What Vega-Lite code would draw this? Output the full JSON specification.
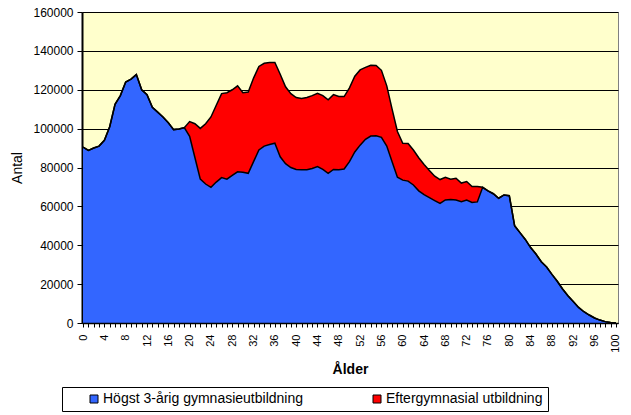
{
  "$schema": "https://vega.github.io/schema/vega-lite/v6.json",
  "width": 536,
  "height": 311,
  "autosize": {"type": "none"},
  "padding": {"left": 82, "top": 12, "right": 13, "bottom": 92},
  "background": "white",
  "config": {
    "font": "Liberation Sans",
    "view": {"fill": "#FFFFCC", "stroke": "#808080", "strokeWidth": 1}
  },
  "data": {
    "values": [
      {"age": 0, "hogst": 90500, "efter": 0},
      {"age": 1, "hogst": 88800, "efter": 0},
      {"age": 2, "hogst": 90000, "efter": 0},
      {"age": 3, "hogst": 91000, "efter": 0},
      {"age": 4, "hogst": 94000, "efter": 0},
      {"age": 5, "hogst": 101000, "efter": 0},
      {"age": 6, "hogst": 112500, "efter": 0},
      {"age": 7, "hogst": 117000, "efter": 0},
      {"age": 8, "hogst": 124000, "efter": 0},
      {"age": 9, "hogst": 125500, "efter": 0},
      {"age": 10, "hogst": 127800, "efter": 0},
      {"age": 11, "hogst": 120000, "efter": 0},
      {"age": 12, "hogst": 117500, "efter": 0},
      {"age": 13, "hogst": 111000, "efter": 0},
      {"age": 14, "hogst": 108500, "efter": 0},
      {"age": 15, "hogst": 106000, "efter": 0},
      {"age": 16, "hogst": 103000, "efter": 0},
      {"age": 17, "hogst": 99500, "efter": 0},
      {"age": 18, "hogst": 99800, "efter": 0},
      {"age": 19, "hogst": 100500, "efter": 0},
      {"age": 20, "hogst": 96000, "efter": 7600},
      {"age": 21, "hogst": 85000, "efter": 17500},
      {"age": 22, "hogst": 74000, "efter": 26100},
      {"age": 23, "hogst": 71500, "efter": 31000},
      {"age": 24, "hogst": 69800, "efter": 36200},
      {"age": 25, "hogst": 72500, "efter": 39500},
      {"age": 26, "hogst": 74800, "efter": 43200},
      {"age": 27, "hogst": 74000, "efter": 44500},
      {"age": 28, "hogst": 76000, "efter": 44000},
      {"age": 29, "hogst": 77800, "efter": 44200},
      {"age": 30, "hogst": 77500, "efter": 41000},
      {"age": 31, "hogst": 77000, "efter": 41800},
      {"age": 32, "hogst": 83000, "efter": 43000},
      {"age": 33, "hogst": 89000, "efter": 43000},
      {"age": 34, "hogst": 91000, "efter": 42600},
      {"age": 35, "hogst": 91800, "efter": 42200},
      {"age": 36, "hogst": 92500, "efter": 41500},
      {"age": 37, "hogst": 85500, "efter": 42500},
      {"age": 38, "hogst": 82000, "efter": 39500},
      {"age": 39, "hogst": 80000, "efter": 38000},
      {"age": 40, "hogst": 79000, "efter": 37000},
      {"age": 41, "hogst": 78800, "efter": 36700},
      {"age": 42, "hogst": 78800, "efter": 37200},
      {"age": 43, "hogst": 79500, "efter": 37500},
      {"age": 44, "hogst": 80500, "efter": 37700},
      {"age": 45, "hogst": 79000, "efter": 38000},
      {"age": 46, "hogst": 77000, "efter": 37800},
      {"age": 47, "hogst": 79000, "efter": 38500},
      {"age": 48, "hogst": 78800, "efter": 37700},
      {"age": 49, "hogst": 79200, "efter": 37300},
      {"age": 50, "hogst": 83000, "efter": 38000},
      {"age": 51, "hogst": 88000, "efter": 39000},
      {"age": 52, "hogst": 91500, "efter": 38700},
      {"age": 53, "hogst": 94500, "efter": 37000},
      {"age": 54, "hogst": 96200, "efter": 36400},
      {"age": 55, "hogst": 96300, "efter": 36200},
      {"age": 56, "hogst": 95500, "efter": 34500},
      {"age": 57, "hogst": 91000, "efter": 31000},
      {"age": 58, "hogst": 83000, "efter": 27000},
      {"age": 59, "hogst": 75000, "efter": 23500},
      {"age": 60, "hogst": 73500, "efter": 19000},
      {"age": 61, "hogst": 73000, "efter": 19300},
      {"age": 62, "hogst": 71000, "efter": 18000},
      {"age": 63, "hogst": 68000, "efter": 17000},
      {"age": 64, "hogst": 66000, "efter": 15500},
      {"age": 65, "hogst": 64500, "efter": 14000},
      {"age": 66, "hogst": 63000, "efter": 12500},
      {"age": 67, "hogst": 61500, "efter": 12300},
      {"age": 68, "hogst": 63300, "efter": 11700},
      {"age": 69, "hogst": 63500, "efter": 10500},
      {"age": 70, "hogst": 63300, "efter": 11200},
      {"age": 71, "hogst": 62400, "efter": 9600},
      {"age": 72, "hogst": 63300, "efter": 9500},
      {"age": 73, "hogst": 62000, "efter": 8200},
      {"age": 74, "hogst": 62300, "efter": 7900},
      {"age": 75, "hogst": 69800, "efter": 0},
      {"age": 76, "hogst": 68000, "efter": 0},
      {"age": 77, "hogst": 66500, "efter": 0},
      {"age": 78, "hogst": 64200, "efter": 0},
      {"age": 79, "hogst": 65900, "efter": 0},
      {"age": 80, "hogst": 65500, "efter": 0},
      {"age": 81, "hogst": 50000, "efter": 0},
      {"age": 82, "hogst": 46500, "efter": 0},
      {"age": 83, "hogst": 43000, "efter": 0},
      {"age": 84, "hogst": 38800, "efter": 0},
      {"age": 85, "hogst": 35500, "efter": 0},
      {"age": 86, "hogst": 31500, "efter": 0},
      {"age": 87, "hogst": 28800, "efter": 0},
      {"age": 88, "hogst": 25000, "efter": 0},
      {"age": 89, "hogst": 21500, "efter": 0},
      {"age": 90, "hogst": 17500, "efter": 0},
      {"age": 91, "hogst": 14000, "efter": 0},
      {"age": 92, "hogst": 11000, "efter": 0},
      {"age": 93, "hogst": 8000, "efter": 0},
      {"age": 94, "hogst": 5800, "efter": 0},
      {"age": 95, "hogst": 4100, "efter": 0},
      {"age": 96, "hogst": 2600, "efter": 0},
      {"age": 97, "hogst": 1500, "efter": 0},
      {"age": 98, "hogst": 700, "efter": 0},
      {"age": 99, "hogst": 200, "efter": 0},
      {"age": 100, "hogst": 100, "efter": 0}
    ]
  },
  "transform": [
    {"fold": ["hogst", "efter"], "as": ["serie", "antal"]},
    {"stack": "antal", "groupby": ["age"], "sort": [{"field": "serie", "order": "descending"}], "as": ["y0", "y1"]}
  ],
  "layer": [
    {
      "mark": {"type": "area", "interpolate": "linear"},
      "encoding": {
        "x": {
          "field": "age",
          "type": "quantitative",
          "scale": {"domain": [-0.2, 100.4], "nice": false, "zero": false},
          "axis": {
            "title": "Ålder",
            "titleFontSize": 14,
            "titleFontWeight": "bold",
            "titleColor": "black",
            "titlePadding": 10,
            "values": [0,1,2,3,4,5,6,7,8,9,10,11,12,13,14,15,16,17,18,19,20,21,22,23,24,25,26,27,28,29,30,31,32,33,34,35,36,37,38,39,40,41,42,43,44,45,46,47,48,49,50,51,52,53,54,55,56,57,58,59,60,61,62,63,64,65,66,67,68,69,70,71,72,73,74,75,76,77,78,79,80,81,82,83,84,85,86,87,88,89,90,91,92,93,94,95,96,97,98,99,100],
            "tickCount": 500,
            "labelExpr": "datum.value % 4 === 0 ? datum.label : ''",
            "labelAngle": -90,
            "labelFontSize": 11,
            "labelColor": "black",
            "labelPadding": 7,
            "labelOverlap": false,
            "labelFlush": false,
            "format": "d",
            "grid": false,
            "domainColor": "black",
            "domainWidth": 1.5,
            "tickColor": "black",
            "tickSize": 4,
            "zindex": 1
          }
        },
        "y": {
          "field": "y1",
          "type": "quantitative",
          "scale": {"domain": [0, 160000], "nice": false},
          "axis": {
            "title": "Antal",
            "titleFontSize": 14,
            "titleFontWeight": "normal",
            "titleColor": "black",
            "titlePadding": 8,
            "values": [0, 20000, 40000, 60000, 80000, 100000, 120000, 140000, 160000],
            "tickCount": 50,
            "format": "d",
            "labelFontSize": 12,
            "labelColor": "black",
            "labelPadding": 4,
            "labelOverlap": false,
            "grid": true,
            "gridColor": "black",
            "gridWidth": 1,
            "domainColor": "black",
            "domainWidth": 2,
            "tickColor": "black",
            "tickSize": 5
          }
        },
        "y2": {"field": "y0"},
        "color": {
          "field": "serie",
          "type": "nominal",
          "scale": {"domain": ["hogst", "efter"], "range": ["#3366FF", "#FF0000"]},
          "legend": {
            "orient": "none",
            "legendX": -20,
            "legendY": 375,
            "direction": "horizontal",
            "title": null,
            "labelExpr": "datum.label == 'hogst' ? 'Högst 3-årig gymnasieutbildning' : 'Eftergymnasial utbildning\u00a0\u00a0\u00a0\u00a0\u00a0\u00a0\u00a0\u00a0\u00a0\u00a0\u00a0\u00a0\u00a0\u00a0\u00a0\u00a0\u00a0\u00a0\u00a0\u00a0'",
            "symbolType": "square",
            "symbolSize": 64,
            "symbolStrokeColor": "black",
            "symbolStrokeWidth": 1,
            "symbolOpacity": 1,
            "symbolOffset": 20,
            "labelOffset": 2,
            "labelFontSize": 14,
            "labelColor": "black",
            "labelLimit": 500,
            "columnPadding": 47,
            "gridAlign": "each",
            "padding": 5,
            "strokeColor": "black",
            "fillColor": "white"
          }
        }
      }
    },
    {
      "mark": {"type": "line", "color": "black", "strokeWidth": 1.5},
      "encoding": {
        "x": {"field": "age", "type": "quantitative"},
        "y": {"field": "y1", "type": "quantitative"},
        "detail": {"field": "serie"}
      }
    }
  ]
}
